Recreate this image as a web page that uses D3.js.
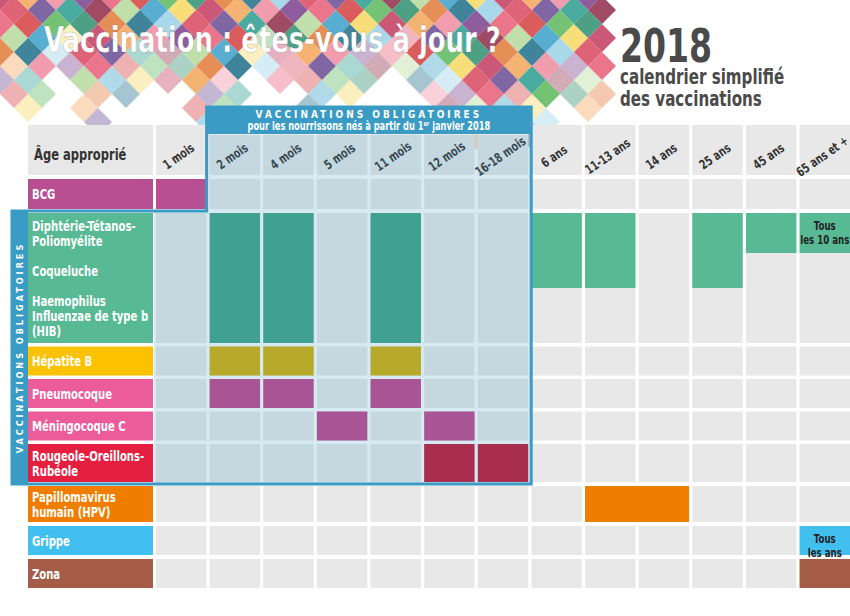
<!DOCTYPE html>
<html><head><meta charset="utf-8">
<script src="https://cdn.jsdelivr.net/npm/d3@7"></script>
<style>
body{margin:0;background:#fff;}
text{font-family:"DejaVu Sans Condensed","Liberation Sans Narrow","DejaVu Sans",sans-serif;font-weight:bold;}
</style></head>
<body><svg id="viz" width="850" height="616"></svg>
<script>
// colonnes d'age
var ages = ["1 mois","2 mois","4 mois","5 mois","11 mois","12 mois","16-18 mois","6 ans","11-13 ans","14 ans","25 ans","45 ans","65 ans et +"];
// lignes (dtp, coq, hib partagent un libelle)
var lignes = ["bcg","dtp","coq","hib","hepb","pneumo","mening","ror","hpv","grippe","zona"];
var libelles = [
	{id:"bcg", de:"bcg", a:"bcg", txt:["BCG"], couleur:"#b84f93"},
	{id:"dtp", de:"dtp", a:"hib", txt:[], couleur:"#58b995"},
	{id:"hepb", de:"hepb", a:"hepb", txt:["Hépatite B"], couleur:"#fcc200"},
	{id:"pneumo", de:"pneumo", a:"pneumo", txt:["Pneumocoque"], couleur:"#ec5b9a"},
	{id:"mening", de:"mening", a:"mening", txt:["Méningocoque C"], couleur:"#ec5b9a"},
	{id:"ror", de:"ror", a:"ror", txt:["Rougeole-Oreillons-","Rubéole"], couleur:"#e51f3f"},
	{id:"hpv", de:"hpv", a:"hpv", txt:["Papillomavirus","humain (HPV)"], couleur:"#ef7d00"},
	{id:"grippe", de:"grippe", a:"grippe", txt:["Grippe"], couleur:"#41bfee"},
	{id:"zona", de:"zona", a:"zona", txt:["Zona"], couleur:"#a65d48"}
];
var dtpTextes = [["Diphtérie-Tétanos-","Poliomyélite"],["Coqueluche"],["Haemophilus","Influenzae de type b","(HIB)"]];
// vaccinations : [age debut, age fin, ligne debut, ligne fin, couleur, texte]
var vaccins = [
	["1 mois","1 mois","bcg","bcg","#b84f93"],
	["2 mois","2 mois","dtp","hib","#3fa383"],
	["4 mois","4 mois","dtp","hib","#3fa383"],
	["11 mois","11 mois","dtp","hib","#3fa383"],
	["6 ans","6 ans","dtp","coq","#58b995"],
	["11-13 ans","11-13 ans","dtp","coq","#58b995"],
	["25 ans","25 ans","dtp","coq","#58b995"],
	["45 ans","45 ans","dtp","dtp","#58b995"],
	["65 ans et +","65 ans et +","dtp","dtp","#58b995",["Tous","les 10 ans"]],
	["2 mois","2 mois","hepb","hepb","#d6ad00"],
	["4 mois","4 mois","hepb","hepb","#d6ad00"],
	["11 mois","11 mois","hepb","hepb","#d6ad00"],
	["2 mois","2 mois","pneumo","pneumo","#c4418a"],
	["4 mois","4 mois","pneumo","pneumo","#c4418a"],
	["11 mois","11 mois","pneumo","pneumo","#c4418a"],
	["5 mois","5 mois","mening","mening","#c4418a"],
	["12 mois","12 mois","mening","mening","#c4418a"],
	["12 mois","12 mois","ror","ror","#c4102e"],
	["16-18 mois","16-18 mois","ror","ror","#c4102e"],
	["11-13 ans","14 ans","hpv","hpv","#ef7d00"],
	["65 ans et +","65 ans et +","grippe","grippe","#41bfee",["Tous","les ans"]],
	["65 ans et +","65 ans et +","zona","zona","#a65d48"]
];
var palette = ["#c23b5e","#2a9d8f","#e07b39","#7b3f8c","#3aa0c8","#d9485f","#5cb85c","#f2a65a","#8e2c48","#1d6f8a","#e85d75","#f6d860","#6a4c93","#2f8f6f","#f08ca0","#b5d99c","#9ad1e8","#d43f3f"];

var svg = d3.select("#viz");

//texte condense
function texte(g, px, py, t, taille, coul, rot, anchor){
	var tr = "translate("+px+","+py+")"+(rot?" rotate("+rot+")":"")+" scale(0.8,1)";
	return g.append("text").attr("transform",tr).attr("font-size",taille).attr("fill",coul)
		.attr("text-anchor",anchor||"start").text(t);
}

// bandeau de losanges
var prof = [8,9,6,10,8,7,7,10,9,6,7,9,8,7,6,8,9,11,10,11,8,9];
var bandeau = svg.append("g");
var s = 28;
prof.forEach(function(p, i){
	for(var j=0;j<p;j++){
		var cx = i*s + (j%2? s/2:0), cy = j*s/2 - 4;
		var c = palette[(i*7+j*5)%palette.length];
		var op = j>=p-3 ? 0.4 : 0.85;
		bandeau.append("path")
			.attr("d","M"+cx+","+(cy-s/2)+"L"+(cx+s/2)+","+cy+"L"+cx+","+(cy+s/2)+"L"+(cx-s/2)+","+cy+"Z")
			.attr("fill",c).attr("opacity",op);
	}
});
texte(bandeau,44,52,"Vaccination : êtes-vous à jour ?",36,"#fff").attr("stroke","rgba(0,0,0,0.25)").attr("stroke-width",0.6);
texte(svg,620,62,"2018",46,"#4a4a4a");
texte(svg,620,84,"calendrier simplifié",21,"#4a4a4a");
texte(svg,620,106,"des vaccinations",21,"#4a4a4a");

// echelles
var x = d3.scaleBand().domain(ages).range([156,850]).paddingInner(0.06).paddingOuter(0);
var hauteurs = [30,40,35,55,29,29,29,38,36,29,29];
var ecarts =   [4,0,0,3.5,3.5,3.5,3.5,4,4,4,0];
var yPos = {}, yy = 179;
lignes.forEach(function(l,i){ yPos[l]={y:yy,h:hauteurs[i]}; yy+=hauteurs[i]+ecarts[i]; });
function y0(l){return yPos[l].y;}
function y1(l){return yPos[l].y+yPos[l].h;}

// en-tete
svg.append("rect").attr("x",28).attr("y",125).attr("width",125).attr("height",50).attr("fill","#e8e8e8");
texte(svg,34,160,"Âge approprié",16,"#333").attr("font-weight","normal");
ages.forEach(function(a){
	svg.append("rect").attr("x",x(a)).attr("y",125).attr("width",x.bandwidth()).attr("height",50).attr("fill","#e8e8e8");
	texte(svg,x(a)+x.bandwidth()/2,160,a,13,"#333",-35,"middle").attr("font-weight","normal");
});

// grille grise
lignes.forEach(function(l){
	ages.forEach(function(a){
		svg.append("rect").attr("x",x(a)).attr("y",y0(l)).attr("width",x.bandwidth()).attr("height",yPos[l].h).attr("fill","#e8e8e8");
	});
});

// libelles
libelles.forEach(function(d){
	svg.append("rect").attr("x",28).attr("y",y0(d.de)).attr("width",125).attr("height",y1(d.a)-y0(d.de)).attr("fill",d.couleur);
	var n = d.txt.length, m = (y0(d.de)+y1(d.a))/2;
	d.txt.forEach(function(t,k){
		texte(svg,32,m+5+(k-(n-1)/2)*15,t,14,"#fff");
	});
});
dtpTextes.forEach(function(tt,i){
	var l = ["dtp","coq","hib"][i], m=(y0(l)+y1(l))/2;
	tt.forEach(function(t,k){
		texte(svg,32,m+5+(k-(tt.length-1)/2)*15,t,14,"#fff");
	});
});

// vaccinations
vaccins.forEach(function(v){
	var xa = x(v[0]), xb = x(v[1])+x.bandwidth();
	svg.append("rect").attr("x",xa).attr("y",y0(v[2])).attr("width",xb-xa).attr("height",y1(v[3])-y0(v[2])).attr("fill",v[4]);
	if(v[5]) v[5].forEach(function(t,k){
		texte(svg,(xa+xb)/2,y0(v[2])+17+k*14,t,12,"#222",0,"middle");
	});
});

// cadre vaccinations obligatoires
var bx0 = x("2 mois")-3, bx1 = x("16-18 mois")+x.bandwidth()+3;
var by0 = 107, byb = y1("bcg")+2, by1 = y1("ror")+2;
svg.append("path")
	.attr("d","M"+bx0+","+(by0+28)+"H"+bx1+"V"+by1+"H"+(x("1 mois")-2)+"V"+byb+"H"+bx0+"Z")
	.attr("fill","#4a9cc0").attr("opacity",0.22);
svg.append("path")
	.attr("d","M"+bx0+","+by0+"H"+bx1+"V"+by1+"H12V"+byb+"H"+bx0+"Z")
	.attr("fill","none").attr("stroke","#3a9bc4").attr("stroke-width",3);
svg.append("rect").attr("x",bx0).attr("y",by0).attr("width",bx1-bx0).attr("height",27).attr("fill","#3a9bc4");
svg.append("rect").attr("x",12).attr("y",byb).attr("width",16).attr("height",by1-byb).attr("fill","#3a9bc4");
svg.append("text").attr("x",(bx0+bx1)/2).attr("y",by0+11).attr("text-anchor","middle").attr("fill","#fff")
	.attr("font-size",10).attr("letter-spacing",3).text("VACCINATIONS OBLIGATOIRES");
var st = svg.append("text").attr("transform","translate("+((bx0+bx1)/2)+","+(by0+23)+") scale(0.8,1)")
	.attr("text-anchor","middle").attr("fill","#fff").attr("font-size",11.5);
st.append("tspan").text("pour les nourrissons nés à partir du 1");
st.append("tspan").attr("font-size",7).attr("dy",-4).text("er");
st.append("tspan").attr("dy",4).text(" janvier 2018");
svg.append("text").attr("transform","translate(23,"+((byb+by1)/2)+") rotate(-90)").attr("text-anchor","middle")
	.attr("fill","#fff").attr("font-size",9).attr("letter-spacing",3).text("VACCINATIONS OBLIGATOIRES");
</script></body></html>
